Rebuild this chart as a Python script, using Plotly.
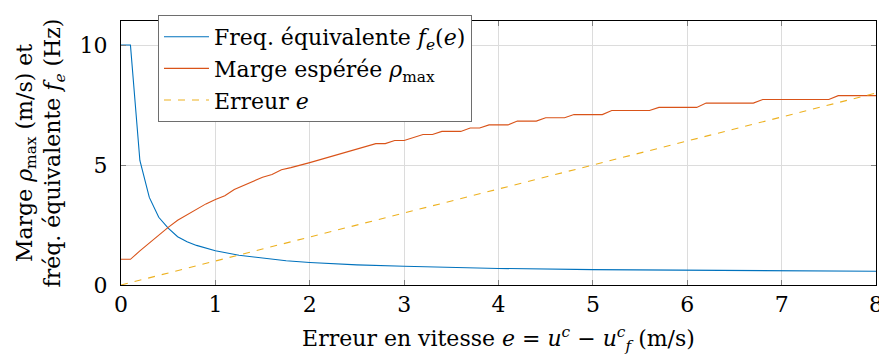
import plotly.graph_objects as go

# Data
freq_x = [0, 0.1, 0.2, 0.3, 0.4, 0.5, 0.6, 0.7, 0.8, 0.9, 1.0, 1.25, 1.5, 1.75, 2.0, 2.5, 3.0, 3.5, 4.0, 5.0, 6.0, 7.0, 8.0]
freq_y = [10, 10, 5.19, 3.65, 2.82, 2.37, 2.01, 1.80, 1.65, 1.53, 1.43, 1.24, 1.12, 1.01, 0.94, 0.84, 0.78, 0.73, 0.69, 0.64, 0.61, 0.58, 0.57]

marge_x = [0, 0.1, 0.2, 0.3, 0.4, 0.5, 0.6, 0.7, 0.8, 0.9, 1.0, 1.1, 1.2, 1.3, 1.4, 1.5, 1.6, 1.7, 1.8, 1.9, 2.0,
           2.7, 2.8, 2.9, 3.0, 3.2, 3.3, 3.4, 3.6, 3.7, 3.8, 3.9, 4.1, 4.2, 4.4, 4.5, 4.7, 4.8, 5.1, 5.2, 5.6, 5.7,
           6.1, 6.2, 6.7, 6.8, 7.5, 7.6, 8.0]
marge_y = [1.07, 1.07, 1.42, 1.76, 2.07, 2.40, 2.70, 2.93, 3.16, 3.38, 3.56, 3.72, 3.98, 4.16, 4.33, 4.49, 4.60, 4.80, 4.89, 5.01, 5.10,
           5.89, 5.89, 6.02, 6.02, 6.27, 6.27, 6.40, 6.40, 6.54, 6.54, 6.67, 6.67, 6.83, 6.83, 6.97, 6.97, 7.10, 7.10, 7.27, 7.27, 7.40,
           7.40, 7.58, 7.58, 7.73, 7.73, 7.89, 7.89]

err_x = [0, 8]
err_y = [0, 8]

x_ticks = [0, 1, 2, 3, 4, 5, 6, 7, 8]
y_ticks = [0, 5, 10]

FONT = "DejaVu Serif"
FS = 22

fig = go.Figure()
fig.add_trace(go.Scatter(x=freq_x, y=freq_y, mode="lines",
                         line=dict(color="#0072BD", width=1.1),
                         name="Freq. équivalente <i>f<sub>e</sub></i>(<i>e</i>)"))
fig.add_trace(go.Scatter(x=marge_x, y=marge_y, mode="lines",
                         line=dict(color="#D95319", width=1.1),
                         name="Marge espérée <i>ρ</i><sub>max</sub>"))
fig.add_trace(go.Scatter(x=err_x, y=err_y, mode="lines",
                         line=dict(color="#EDB120", width=1.1, dash="7px,7px"),
                         name="Erreur <i>e</i>"))

axis_common = dict(showline=True, linecolor="black", linewidth=1, mirror="allticks",
                   ticks="inside", ticklen=5, tickcolor="#808080", tickwidth=1,
                   showgrid=True, gridcolor="#dcdcdc", gridwidth=1, zeroline=False,
                   automargin=False, ticklabeloverflow="allow",
                   tickfont=dict(family=FONT, size=FS, color="black"))

fig.update_xaxes(range=[0, 8], tickvals=x_ticks, ticktext=[str(v) for v in x_ticks],
                 title=dict(text="Erreur en vitesse <i>e</i> = <i>u<sup>c</sup></i> − <i>u<sup>c</sup><sub>f</sub></i> (m/s)",
                            font=dict(family=FONT, size=FS, color="black"), standoff=14),
                 **axis_common)
fig.update_yaxes(range=[0, 11], tickvals=y_ticks, ticktext=[str(v) for v in y_ticks],
                 ticklabelstandoff=8,
                 title=dict(text="Marge <i>ρ</i><sub>max</sub> (m/s) et<br>fréq. équivalente <i>f<sub>e</sub></i> (Hz)",
                            font=dict(family=FONT, size=FS, color="black"), standoff=12),
                 **axis_common)

fig.update_layout(
    width=879, height=356,
    margin=dict(l=121, r=3, t=21, b=71, autoexpand=False),
    paper_bgcolor="white", plot_bgcolor="white",
    font=dict(family=FONT, size=FS, color="black"),
    showlegend=True,
    legend=dict(x=0.049, y=1.023, xanchor="left", yanchor="top",
                bgcolor="white", bordercolor="#6e6e6e", borderwidth=1,
                font=dict(family=FONT, size=FS, color="black"),
                itemwidth=45, tracegroupgap=0),
)

fig.write_html("out.html", config={"displayModeBar": False},
               post_script="document.body.style.margin='0';document.body.style.overflow='hidden';")
